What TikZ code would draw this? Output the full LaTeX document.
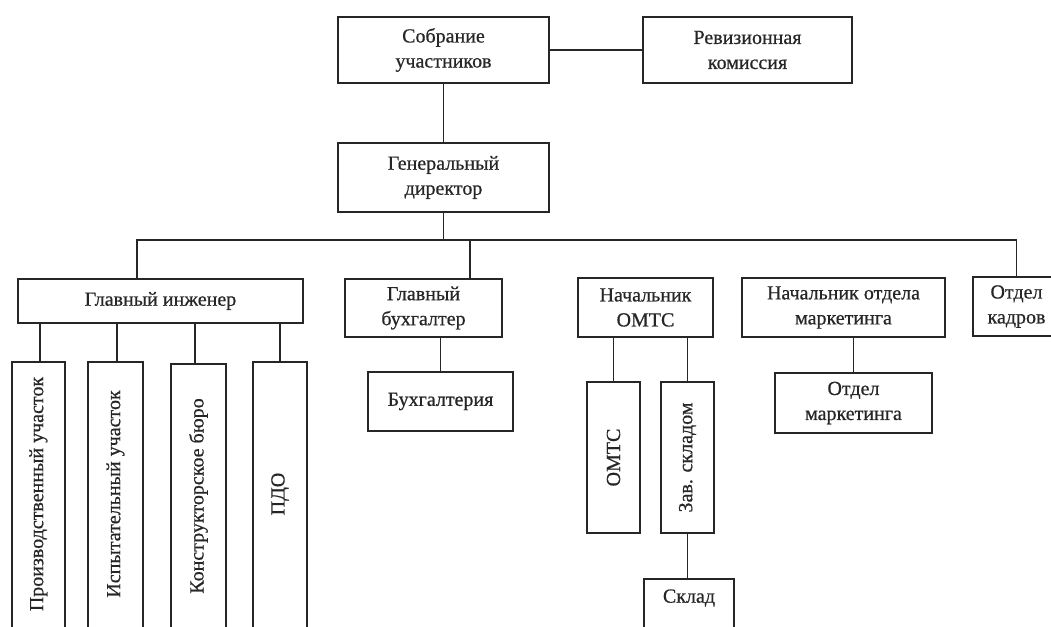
\documentclass[tikz,border=0pt]{standalone}
\usepackage{fontspec}
\setmainfont{Liberation Serif}
\newfontfamily\heavy[FakeBold=0.6]{Liberation Serif}
\definecolor{ink}{HTML}{262626}
\begin{document}
\begin{tikzpicture}[x=1pt,y=-1pt,
  box/.style={draw=ink, line width=1.5pt, align=center, inner sep=0pt, text=ink,
    font=\heavy\fontsize{20}{25}\selectfont},
  vbox/.style={inner sep=0pt, text=ink, font=\heavy\fontsize{20}{25}\selectfont, minimum width=54pt, minimum height=264pt},
  link/.style={draw=ink, line width=1.5pt}]
\useasboundingbox (0,0) rectangle (1051,626);
\clip (0,0) rectangle (1051,626);
\fill[white] (0,0) rectangle (1051,626);
% top level
\node[box, minimum width=211pt, minimum height=66pt] (sobr) at (443.5,50) {Собрание\\участников};
\node[box, minimum width=209pt, minimum height=66pt] (rev) at (747.5,50) {Ревизионная\\комиссия};
\node[box, minimum width=211pt, minimum height=69pt] (gen) at (443.5,177.5) {Генеральный\\директор};
% second level
\node[box, minimum width=285pt, minimum height=44pt] (glinzh) at (160.5,301) {Главный инженер};
\node[box, minimum width=157pt, minimum height=58pt] (glbuh) at (423.5,308) {Главный\\бухгалтер};
\node[box, minimum width=135pt, minimum height=59pt] (nomts) at (645.5,307.5) {Начальник\\ОМТС};
\node[box, minimum width=203pt, minimum height=59pt] (nmark) at (843.5,307.5) {Начальник отдела\\маркетинга};
\node[box, minimum width=87pt, minimum height=59pt] (kadr) at (1016.5,306.5) {Отдел\\кадров};
% third level
\node[box, minimum width=145pt, minimum height=59pt] (buh) at (440.5,401.5) {Бухгалтерия};
\node[box, minimum width=157pt, minimum height=60pt] (otdmark) at (853.5,403) {Отдел\\маркетинга};
\node[vbox, minimum width=53pt] (v1) at (38.5,494) {\rotatebox{90}{Производственный участок}};
\node[vbox, minimum width=55pt] (v2) at (115.5,494) {\rotatebox{90}{Испытательный участок}};
\node[vbox, minimum width=55pt] (v3) at (198.5,496) {\rotatebox{90}{Конструкторское бюро}};
\node[vbox, minimum width=54pt] (v4) at (280,494) {\rotatebox{90}{ПДО}};
\foreach \v in {v1,v2,v3,v4}{
  \draw[link] ([yshift=-30pt]\v.south west) |- (\v.north east) -- ([yshift=-30pt]\v.south east);
}
\node[box, minimum width=53pt, minimum height=151pt] (omts) at (613.5,457.5) {\rotatebox{90}{ОМТС}};
\node[box, minimum width=53pt, minimum height=151pt] (zav) at (687.5,457.5) {\rotatebox{90}{Зав. складом}};
\node[inner sep=0pt, text=ink, font=\heavy\fontsize{20}{25}\selectfont, minimum width=90pt, minimum height=38pt] (sklad) at (689,598) {Склад};
\draw[link] ([yshift=-40pt]sklad.south west) |- (sklad.north east) -- ([yshift=-40pt]sklad.south east);
% connectors
\coordinate (busL) at (137,240);
\coordinate (busR) at (kadr.north |- busL);
\coordinate (busB) at (470,240);
\draw[link] (sobr.east) -- (rev.west);
\draw[link] (sobr.south) -- (gen.north);
\draw[link] (gen.south) -- (gen.south |- busL);
\draw[link] (glinzh.north -| busL) -- (busL) -- (busR) -- (kadr.north);
\draw[link] (busB) -- (glbuh.north -| busB);
\draw[link] (buh.north) -- (buh.north |- glbuh.south);
\draw[link] (otdmark.north) -- (otdmark.north |- nmark.south);
\foreach \v/\x in {v1/40,v2/117,v3/195,v4/280}{
  \draw[link] (\x,0 |- \v.north) -- (\x,0 |- glinzh.south);
}
\draw[link] (omts.north) -- (omts.north |- nomts.south);
\draw[link] (zav.north) -- (zav.north |- nomts.south);
\draw[link] (zav.south) -- (sklad.north -| zav.south);
\end{tikzpicture}
\end{document}
